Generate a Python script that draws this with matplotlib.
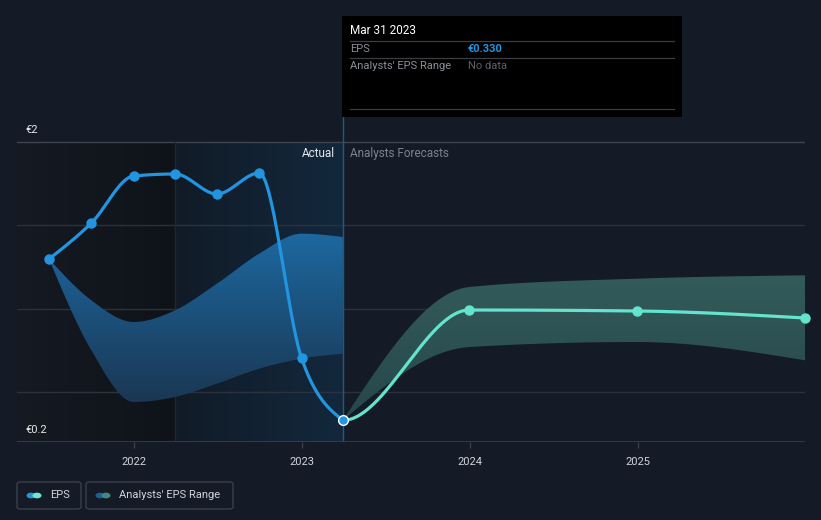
import numpy as np
import matplotlib
matplotlib.use("Agg")
import matplotlib.pyplot as plt
from matplotlib.patches import FancyBboxPatch, Rectangle, Circle, Polygon
from matplotlib.lines import Line2D
from matplotlib.colors import LinearSegmentedColormap

plt.rcParams['font.family'] = ['Roboto', 'DejaVu Sans']

# ---------------- data ----------------
actual_dates = ['2021-06-30', '2021-09-30', '2021-12-31', '2022-03-31', '2022-06-30',
                '2022-09-30', '2022-12-31', '2023-03-31']
actual_eps = [1.298, 1.514, 1.796, 1.808, 1.688, 1.814, 0.704, 0.330]

past_range_dates = actual_dates
past_range_high = [1.298, 1.05, 0.92, 0.99, 1.15, 1.33, 1.45, 1.43]
past_range_low = [1.298, 0.75, 0.44, 0.47, 0.55, 0.64, 0.70, 0.73]

fc_dates = ['2023-03-31', '2023-12-31', '2024-12-31', '2025-12-31']
fc_eps = [0.330, 0.992, 0.986, 0.944]
fc_high = [0.330, 1.13, 1.18, 1.20]
fc_low = [0.330, 0.77, 0.80, 0.69]

year_ticks = [2022, 2023, 2024, 2025]
year_labels = ['2022', '2023', '2024', '2025']

BG = '#151b26'
BLUE = '#2394df'
CYAN = '#64e3cd'


def dec_year(ds):
    out = []
    for d in ds:
        dt = np.datetime64(d)
        y = int(d[:4])
        start = np.datetime64(f'{y}-01-01')
        end = np.datetime64(f'{y + 1}-01-01')
        out.append(y + (dt - start) / (end - start))
    return np.array(out, float)


def monotone_x(xs, ys, n=60):
    xs = np.asarray(xs, float); ys = np.asarray(ys, float)
    k = len(xs)
    h = np.diff(xs); s = np.diff(ys) / h
    t = np.zeros(k)
    for i in range(1, k - 1):
        p = (s[i - 1] * h[i] + s[i] * h[i - 1]) / (h[i - 1] + h[i])
        t[i] = (np.sign(s[i - 1]) + np.sign(s[i])) * min(abs(s[i - 1]), abs(s[i]), 0.5 * abs(p))
    if k > 2:
        t[0] = (3 * s[0] - t[1]) / 2
        t[-1] = (3 * s[-1] - t[-2]) / 2
    else:
        t[0] = t[-1] = s[0]
    X, Y = [], []
    for i in range(k - 1):
        u = np.linspace(0, 1, n)
        dx = h[i]
        h00 = 2 * u**3 - 3 * u**2 + 1
        h10 = u**3 - 2 * u**2 + u
        h01 = -2 * u**3 + 3 * u**2
        h11 = u**3 - u**2
        X.append(xs[i] + u * dx)
        Y.append(h00 * ys[i] + h10 * dx * t[i] + h01 * ys[i + 1] + h11 * dx * t[i + 1])
    return np.concatenate(X), np.concatenate(Y)


ad = dec_year(actual_dates)
pd_ = dec_year(past_range_dates)
fd = dec_year(fc_dates)
split = ad[-1]
q2 = dec_year(['2022-03-31'])[0]

fig = plt.figure(figsize=(8.21, 5.2), dpi=100, facecolor=BG)
ax = fig.add_axes([17 / 821, 78 / 520, 788 / 821, 325 / 520])
ax.set_facecolor(BG)
x0, x1 = 2021.302, fd[-1]
y0, y1 = 0.2, 2.15
ax.set_xlim(x0, x1)
ax.set_ylim(y0, y1)
for sp in ax.spines.values():
    sp.set_visible(False)

# background regions
grad_h = np.linspace(0, 1, 200).reshape(1, -1)
cm_dark = LinearSegmentedColormap.from_list('d', ['#151a23', '#0f1319'])
ax.imshow(grad_h, cmap=cm_dark, extent=[x0, q2, y0, 2.0], aspect='auto', zorder=0)
cm_hi = LinearSegmentedColormap.from_list('h', ['#111b27', '#13283d'])
ax.imshow(grad_h, cmap=cm_hi, extent=[q2, split, y0, 2.0], aspect='auto', zorder=0)

# gridlines
for gy in [1.5, 1.0, 0.5]:
    ax.axhline(gy, color='#2c323d', lw=1, zorder=1)
ax.axhline(2.0, color='#3f4550', lw=1, zorder=1)
ax.axhline(y0, color='#3a404b', lw=1.2, zorder=5)

ax.plot([q2, q2], [y0, 2.0], color='#1c2838', lw=1, zorder=1)
ax.plot([split, split], [y0, y1], color='#1f5a86', lw=1, zorder=2)

# past analyst range with vertical gradient
hx, hy = monotone_x(pd_, past_range_high)
lx, ly = monotone_x(pd_, past_range_low)
poly = np.vstack([np.column_stack([hx, hy]), np.column_stack([lx[::-1], ly[::-1]])])
patch = Polygon(poly, closed=True, facecolor='none', edgecolor='none')
ax.add_patch(patch)
cm_band = LinearSegmentedColormap.from_list('b', ['#1a3550', '#1d6aa3'])
grad_v = np.linspace(0, 1, 200).reshape(-1, 1)
im = ax.imshow(grad_v, cmap=cm_band, extent=[pd_[0], pd_[-1], 0.4, 1.5], origin='lower',
               aspect='auto', zorder=2)
im.set_clip_path(patch)

# forecast range
fhx, fhy = monotone_x(fd, fc_high)
flx, fly = monotone_x(fd, fc_low)
poly2 = np.vstack([np.column_stack([fhx, fhy]), np.column_stack([flx[::-1], fly[::-1]])])
patch2 = Polygon(poly2, closed=True, facecolor='none', edgecolor='none')
ax.add_patch(patch2)
cm_band2 = LinearSegmentedColormap.from_list('c', ['#26464a', '#335b5a'])
im2 = ax.imshow(grad_v, cmap=cm_band2, extent=[fd[0], fd[-1], 0.3, 1.2], origin='lower',
                aspect='auto', zorder=2)
im2.set_clip_path(patch2)

# actual EPS line
ax_x, ax_y = monotone_x(ad, actual_eps)
ax.plot(ax_x, ax_y, color=BLUE, lw=2.3, zorder=4, solid_capstyle='round')
ax.plot(ad[:-1], actual_eps[:-1], 'o', color=BLUE, ms=6.5, zorder=5)

# forecast EPS line (curve shape includes previous actual point, drawn from last actual)
fx_all, fy_all = monotone_x(np.concatenate([[ad[-2]], fd]), [actual_eps[-2]] + fc_eps)
m = fx_all >= fd[0]
ax.plot(fx_all[m], fy_all[m], color=CYAN, lw=2.3, zorder=4, solid_capstyle='round')
ax.plot(fd[1:], fc_eps[1:], 'o', color=CYAN, ms=6.5, zorder=5, clip_on=False)
ax.plot([ad[-1]], [actual_eps[-1]], 'o', color=BLUE, mec='white', mew=1.0, ms=7, zorder=6)

# ticks
ax.set_yticks([])
ax.set_xticks(year_ticks)
ax.set_xticklabels(year_labels)
ax.tick_params(axis='x', colors='#3a404b', length=4, width=1, pad=7, labelcolor='#d0d4da', labelsize=8)

# y labels
ax.text(2021.35, 2.0 + 0.04, '€2', color='#e6e8eb', fontsize=8, va='bottom', ha='left')
ax.text(2021.35, 0.2 + 0.04, '€0.2', color='#e6e8eb', fontsize=8, va='bottom', ha='left')

ax.text(split - 0.05, 1.93, 'Actual', color='#e6e8eb', fontsize=8.5, ha='right', va='center')
ax.text(split + 0.045, 1.93, 'Analysts Forecasts', color='#7d838c', fontsize=8.5, ha='left', va='center')

# tooltip
W, H = 821, 520
def fx(p): return p / W
def fy(p): return 1 - p / H
fig.patches.append(Rectangle((fx(342), fy(117)), fx(682) - fx(342), fy(16) - fy(117),
                             transform=fig.transFigure, facecolor='black', edgecolor='none', zorder=10))
for ly_ in [41, 58, 109]:
    fig.lines.append(Line2D([fx(350), fx(674)], [fy(ly_), fy(ly_)], transform=fig.transFigure,
                            color='#3a3d42', lw=0.9, zorder=11))
fig.text(fx(350), fy(31), 'Mar 31 2023', color='white', fontsize=8.5, va='center', zorder=12)
fig.text(fx(350), fy(49.5), 'EPS', color='#8a8f96', fontsize=8, va='center', zorder=12)
fig.text(fx(468), fy(49.5), '€0.330', color=BLUE, fontsize=8, fontweight='bold', va='center', zorder=12)
fig.text(fx(350), fy(66), "Analysts' EPS Range", color='#8a8f96', fontsize=8, va='center', zorder=12)
fig.text(fx(468), fy(66), 'No data', color='#5d6168', fontsize=8, va='center', zorder=12)

# legend boxes
def legbox(xa, xb, c1, c2, label):
    fig.patches.append(FancyBboxPatch((fx(xa), fy(509)), fx(xb) - fx(xa), fy(482) - fy(509),
                                      boxstyle='round,pad=0,rounding_size=0.004',
                                      transform=fig.transFigure, facecolor='none',
                                      edgecolor='#3a404b', lw=1))
    cy = fy(495.5)
    r = 4.5
    fig.patches.append(Circle((fx(xa + 14), cy), r / W, transform=fig.transFigure,
                              facecolor=c1, edgecolor='none'))
    fig.patches.append(Circle((fx(xa + 20), cy), r / W, transform=fig.transFigure,
                              facecolor=c2, edgecolor='none'))
    fig.text(fx(xa + 33), cy, label, color='#d0d4da', fontsize=8, va='center', ha='left')

legbox(17, 81, BLUE, '#6ee6d3', 'EPS')
legbox(86, 233, '#1f5f8f', '#3f8a80', "Analysts' EPS Range")

fig.savefig('out.png', dpi=100, facecolor=BG)
